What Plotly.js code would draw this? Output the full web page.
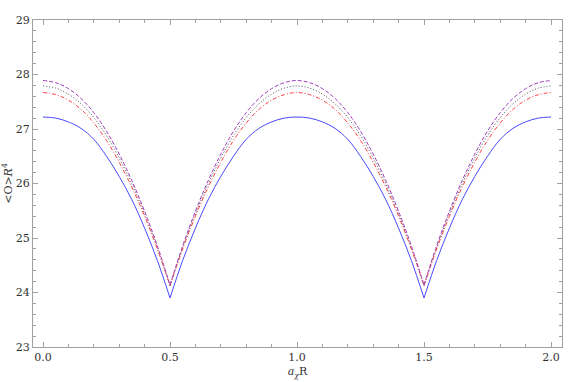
<!DOCTYPE html>
<html>
<head>
<meta charset="utf-8">
<script src="https://cdn.plot.ly/plotly-3.0.1.min.js"></script>
<style>
  html, body { margin: 0; padding: 0; background: #fff; }
  #chart { width: 581px; height: 382px; }
</style>
</head>
<body>
<div id="chart"></div>
<script>
// x = a_chi R, sampled every 0.05
const xVals = [
  0.00, 0.05, 0.10, 0.15, 0.20, 0.25, 0.30, 0.35, 0.40, 0.45, 0.50,
  0.55, 0.60, 0.65, 0.70, 0.75, 0.80, 0.85, 0.90, 0.95, 1.00,
  1.05, 1.10, 1.15, 1.20, 1.25, 1.30, 1.35, 1.40, 1.45, 1.50,
  1.55, 1.60, 1.65, 1.70, 1.75, 1.80, 1.85, 1.90, 1.95, 2.00
];

// solid blue
const blueVals = [
  27.22, 27.20, 27.13, 27.01, 26.81, 26.50, 26.13, 25.70, 25.18, 24.59, 23.90,
  24.59, 25.18, 25.70, 26.13, 26.50, 26.81, 27.01, 27.13, 27.20, 27.22,
  27.20, 27.13, 27.01, 26.81, 26.50, 26.13, 25.70, 25.18, 24.59, 23.90,
  24.59, 25.18, 25.70, 26.13, 26.50, 26.81, 27.01, 27.13, 27.20, 27.22
];

// dotted black
const blackVals = [
  27.79, 27.75, 27.64, 27.46, 27.21, 26.88, 26.47, 25.99, 25.44, 24.82, 24.12,
  24.82, 25.44, 25.99, 26.47, 26.88, 27.21, 27.46, 27.64, 27.75, 27.79,
  27.75, 27.64, 27.46, 27.21, 26.88, 26.47, 25.99, 25.44, 24.82, 24.12,
  24.82, 25.44, 25.99, 26.47, 26.88, 27.21, 27.46, 27.64, 27.75, 27.79
];

// dash-dot red
const redVals = [
  27.67, 27.63, 27.53, 27.36, 27.11, 26.79, 26.39, 25.93, 25.40, 24.80, 24.13,
  24.80, 25.40, 25.93, 26.39, 26.79, 27.11, 27.36, 27.53, 27.63, 27.67,
  27.63, 27.53, 27.36, 27.11, 26.79, 26.39, 25.93, 25.40, 24.80, 24.13,
  24.80, 25.40, 25.93, 26.39, 26.79, 27.11, 27.36, 27.53, 27.63, 27.67
];

// dashed purple
const purpleVals = [
  27.89, 27.85, 27.74, 27.56, 27.30, 26.96, 26.54, 26.05, 25.49, 24.86, 24.14,
  24.86, 25.49, 26.05, 26.54, 26.96, 27.30, 27.56, 27.74, 27.85, 27.89,
  27.85, 27.74, 27.56, 27.30, 26.96, 26.54, 26.05, 25.49, 24.86, 24.14,
  24.86, 25.49, 26.05, 26.54, 26.96, 27.30, 27.56, 27.74, 27.85, 27.89
];

const xTicks = [0, 0.5, 1, 1.5, 2];
const xTickText = ['0.0', '0.5', '1.0', '1.5', '2.0'];
const yTicks = [23, 24, 25, 26, 27, 28, 29];

// indices of the cusps (x = 0.5 and 1.5): each smooth arch is its own spline
const cuts = [[0, 11], [10, 31], [30, 41]];

const frameColor = '#a0a0a0';
const serif = 'DejaVu Serif';

function arches(y, color, dash){
  return cuts.map(([a, b]) => ({
    x: xVals.slice(a, b), y: y.slice(a, b),
    mode: 'lines', line: { color: color, width: 1, dash: dash, shape: 'spline', smoothing: 1 },
    hoverinfo: 'skip'
  }));
}

const traces = [].concat(
  arches(blueVals, '#4a4aff', 'solid'),
  arches(blackVals, '#505050', '1px,2px'),
  arches(redVals, '#ff4040', '4px,2px,1px,2px'),
  arches(purpleVals, '#a040c0', '4px,2px')
);

const axisCommon = {
  showline: true, linecolor: frameColor, linewidth: 1,
  mirror: 'ticks', ticks: 'inside', ticklen: 5, tickcolor: frameColor, tickwidth: 1,
  showgrid: false, zeroline: false,
  tickfont: { family: serif, size: 11, color: '#333' }
};

const layout = {
  width: 581, height: 382,
  margin: { l: 33, r: 19, t: 20, b: 35 },
  paper_bgcolor: '#fff', plot_bgcolor: '#fff',
  showlegend: false,
  font: { family: serif, size: 11, color: '#333' },
  xaxis: Object.assign({}, axisCommon, {
    range: [-0.0394, 2.0433],
    tickvals: xTicks, ticktext: xTickText,
    minor: { dtick: 0.1, tick0: 0, ticks: 'inside', ticklen: 3, tickcolor: frameColor, tickwidth: 1 },
    title: { text: '<i>a</i><sub><i>χ</i></sub>R', font: { family: serif, size: 11, color: '#333' }, standoff: 4 }
  }),
  yaxis: Object.assign({}, axisCommon, {
    range: [23, 29],
    tickvals: yTicks,
    minor: { dtick: 0.2, tick0: 23, ticks: 'inside', ticklen: 3, tickcolor: frameColor, tickwidth: 1 },
    title: { text: '&lt;O&gt;<i>R</i><sup>4</sup>', font: { family: serif, size: 11, color: '#333' }, standoff: 2 }
  })
};

Plotly.newPlot('chart', traces, layout, { staticPlot: true, displayModeBar: false });
</script>
</body>
</html>
